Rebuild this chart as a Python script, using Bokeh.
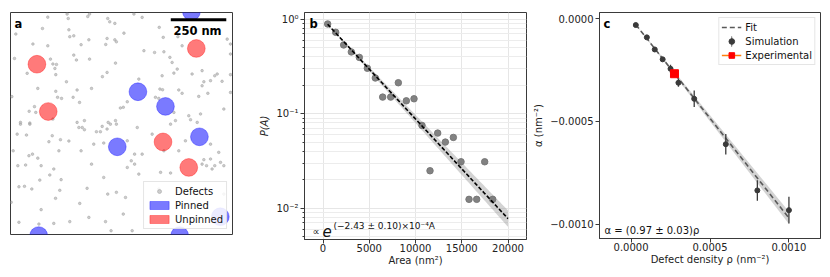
import numpy as np
from bokeh.plotting import figure
from bokeh.layouts import row
from bokeh.models import (Label, Legend, LegendItem, FixedTicker,
                          CustomJSTickFormatter, Range1d)
from bokeh.embed import file_html
from bokeh.resources import INLINE

FONT = "DejaVu Sans"
FRAME_COLOR = "#3a3a3a"
PAGE_PAD = 8

# ---------------- Panel a: defect map (nm) ----------------
DOMAIN_NM = 1000
SCALEBAR_NM = 250
PARTICLE_R_NM = 40

defect_x = [168, 255, 260, 348, 356, 438, 447, 470, 144, 263, 24, 267, 285, 353, 435, 470, 477, 429, 101, 168,
            318, 285, 297, 356, 18, 180, 191, 207, 200, 473, 75, 204, 435, 414, 252, 123, 365, 300, 204, 212,
            230, 282, 311, 6, 108, 84, 114, 495, 191, 45, 87, 300, 333, 440, 473,
            556, 593, 511, 670, 688, 754, 773, 601, 649, 691, 718, 728, 751, 736, 683, 818, 863, 931, 920, 991,
            991, 976, 991, 871, 901, 953, 578, 673, 685, 758, 773, 848, 889, 863, 991, 526, 508, 653, 668, 736,
            803, 811, 856, 743, 841, 961,
            45, 87, 308, 323, 333, 413, 435, 450, 477, 387, 405, 30, 72, 188, 173, 225, 263, 375, 420, 12,
            218, 318, 83, 99, 123, 33, 68, 138, 195, 177, 420, 132, 228, 365, 38, 63, 96, 222, 345, 438,
            477, 203, 312, 3, 138, 353, 428, 38, 128, 195, 267, 453,
            721, 571, 638, 526, 691, 758, 788, 901, 938, 559, 593, 871, 901, 946, 544, 559, 526, 578, 676, 721,
            961, 863, 883, 908, 920, 668, 518, 508, 961, 548]
defect_y = [979, 993, 973, 982, 993, 973, 958, 951, 928, 922, 903, 891, 895, 877, 883, 877, 868, 856, 858, 850,
            855, 808, 786, 790, 793, 790, 768, 766, 748, 772, 726, 720, 730, 711, 688, 658, 658, 651, 645, 618,
            613, 618, 595, 621, 576, 555, 550, 570, 520, 505, 502, 505, 513, 505, 513,
            993, 978, 907, 933, 888, 891, 850, 828, 820, 823, 798, 775, 745, 727, 715, 723, 738, 723, 715, 720,
            813, 880, 858, 688, 693, 690, 700, 655, 652, 651, 636, 622, 636, 670, 640, 598, 573, 618, 613, 550,
            535, 517, 543, 513, 505, 565,
            497, 497, 482, 482, 472, 487, 475, 497, 497, 463, 463, 452, 448, 445, 418, 427, 421, 407, 412, 377,
            377, 377, 355, 362, 344, 310, 313, 310, 295, 268, 257, 245, 247, 317, 215, 217, 205, 199, 208, 182,
            190, 163, 140, 145, 112, 77, 58, 55, 47, 50, 58, 17,
            497, 482, 452, 422, 377, 377, 422, 407, 370, 362, 362, 337, 340, 325, 332, 317, 302, 272, 280, 277,
            310, 317, 310, 295, 310, 205, 167, 92, 182, 17]

pinned_x = [481, 574, 698, 851, 127, 762, 815, 945]
pinned_y = [395, 643, 577, 440, -5, -5, 1004, 80]
unpinned_x = [119, 170, 837, 687, 803]
unpinned_y = [767, 554, 838, 417, 302]

# ---------------- Panel b: area distribution ----------------
area_nm2 = [505, 1370, 2234, 3063, 3928, 4793, 5658, 6451, 7316, 8145, 9010,
            9839, 10704, 11569, 12398, 13227, 14092, 14921, 15786, 16615, 17480, 18345]
prob_area = [0.892, 0.728, 0.535, 0.451, 0.395, 0.303, 0.239, 0.150, 0.150, 0.213, 0.137,
             0.144, 0.0752, 0.0249, 0.0624, 0.0501, 0.0561, 0.031, 0.0124, 0.0124, 0.031, 0.0124]
FIT_B_AMP = 1.0
FIT_B_RATE = 2.43e-4
FIT_B_RATE_ERR = 0.10e-4
FIT_B_XMIN, FIT_B_XMAX = 500, 20000
b_xticks = [0, 5000, 10000, 15000, 20000]
b_yticks = [0.01, 0.1, 1.0]

# ---------------- Panel c: alpha vs defect density ----------------
rho_sim = [0.00003, 0.0001, 0.00015, 0.0002, 0.00025, 0.0003, 0.0004, 0.0006, 0.0008, 0.001]
alpha_sim = [-3.1e-5, -9.1e-5, -1.5e-4, -1.98e-4, -2.44e-4, -3.12e-4, -3.9e-4, -6.11e-4, -8.36e-4, -9.32e-4]
alpha_sim_err = [2e-6, 4e-6, 1e-5, 1e-5, 2e-5, 2e-5, 4e-5, 5e-5, 5e-5, 6.5e-5]
rho_exp = [0.000275]
alpha_exp = [-0.000268]
FIT_C_SLOPE = 0.97
FIT_C_SLOPE_ERR = 0.03
c_xticks = [0.0, 0.0005, 0.0010]
c_yticks = [0.0, -0.0005, -0.0010]


def style_axes(p):
    p.outline_line_color = FRAME_COLOR
    p.outline_line_width = 1
    p.axis.axis_line_color = FRAME_COLOR
    p.axis.major_tick_line_color = FRAME_COLOR
    p.axis.minor_tick_line_color = None
    p.axis.major_tick_in = 0
    p.axis.major_tick_out = 4
    p.axis.major_label_text_font = FONT
    p.axis.major_label_text_font_size = "10px"
    p.axis.major_label_text_color = "#222222"
    p.axis.major_label_standoff = 2
    p.axis.axis_label_text_font = FONT
    p.axis.axis_label_text_font_size = "10px"
    p.axis.axis_label_text_font_style = "normal"
    p.axis.axis_label_text_color = "#222222"
    p.axis.axis_label_standoff = 3
    p.xaxis.major_label_standoff = 0
    p.xaxis.axis_label_standoff = 0


def add_label(p, x, y, text, size="10px", style="normal", align="left", color="#111111"):
    p.add_layout(Label(x=x, y=y, x_units="screen", y_units="screen", text=text,
                       text_font=FONT, text_font_size=size, text_font_style=style,
                       text_align=align, text_baseline="middle", text_color=color))


# ======== Figure a ========
pa = figure(frame_width=222, frame_height=222, min_border_left=2 + PAGE_PAD, min_border_right=18,
            min_border_top=4 + PAGE_PAD, min_border_bottom=35,
            x_range=Range1d(0, DOMAIN_NM), y_range=Range1d(0, DOMAIN_NM),
            x_axis_location=None, y_axis_location=None,
            toolbar_location=None, output_backend="svg")
pa.grid.visible = False
pa.outline_line_color = FRAME_COLOR
pa.outline_line_width = 1

defects_r = pa.scatter(defect_x, defect_y, size=2.6, color="#a4a4a4", alpha=0.55)
pa.circle(pinned_x, pinned_y, radius=PARTICLE_R_NM, fill_color="blue", fill_alpha=0.52,
          line_color="blue", line_alpha=0.35, line_width=1)
pa.circle(unpinned_x, unpinned_y, radius=PARTICLE_R_NM, fill_color="red", fill_alpha=0.52,
          line_color="red", line_alpha=0.35, line_width=1)
nan1 = np.array([np.nan])
pin_leg = pa.quad(left=nan1, right=nan1, bottom=nan1, top=nan1, fill_color="blue",
                  fill_alpha=0.52, line_color="blue", line_alpha=0.35)
unpin_leg = pa.quad(left=nan1, right=nan1, bottom=nan1, top=nan1, fill_color="red",
                    fill_alpha=0.52, line_color="red", line_alpha=0.35)

# scale bar
sb_x1 = DOMAIN_NM - 28
sb_x0 = sb_x1 - SCALEBAR_NM
sb_y = DOMAIN_NM - 33
pa.line([sb_x0, sb_x1], [sb_y, sb_y], line_color="black", line_width=3)
add_label(pa, 187, 204, "250 nm", size="11.5px", style="bold", align="center", color="black")
add_label(pa, 4, 211, "a", size="11.5px", style="bold", color="black")

leg_a = Legend(items=[LegendItem(label="Defects", renderers=[defects_r]),
                      LegendItem(label="Pinned", renderers=[pin_leg]),
                      LegendItem(label="Unpinned", renderers=[unpin_leg])],
               location="bottom_right")
leg_a.glyph_width = 24
leg_a.glyph_height = 10
leg_a.label_height = 12
leg_a.spacing = 2
leg_a.padding = 3

# ======== Figure b ========
pb = figure(frame_width=222, frame_height=227, min_border_left=54, min_border_right=4,
            min_border_top=1 + PAGE_PAD, min_border_bottom=33,
            x_range=Range1d(-2000, 22000), y_range=Range1d(0.00466, 1.18),
            y_axis_type="log", toolbar_location=None, output_backend="svg")
style_axes(pb)
pb.xaxis.ticker = FixedTicker(ticks=b_xticks)
minor_b = [m * d for d in (0.001, 0.01, 0.1) for m in range(2, 10)]
pb.yaxis.ticker = FixedTicker(ticks=b_yticks, minor_ticks=minor_b)
pb.yaxis.minor_tick_line_color = FRAME_COLOR
pb.yaxis.minor_tick_in = 0
pb.yaxis.minor_tick_out = 2
pb.yaxis.formatter = CustomJSTickFormatter(code="""
const sup = {'-': '\u207b', '0': '\u2070', '1': '\u00b9', '2': '\u00b2', '3': '\u00b3', '4': '\u2074'};
const e = Math.round(Math.log10(tick));
return '10' + String(e).split('').map(c => sup[c]).join('');
""")
pb.xaxis.axis_label = "Area (nm\u00b2)"
pb.yaxis.axis_label = "P(A)"
pb.yaxis.axis_label_text_font_style = "italic"
pb.xgrid.grid_line_color = "#e6e6e6"
pb.ygrid.grid_line_color = "#e6e6e6"
pb.ygrid.minor_grid_line_color = "#ececec"

fx = np.linspace(FIT_B_XMIN, FIT_B_XMAX, 120)
pb.varea(x=fx, y1=FIT_B_AMP * np.exp(-(FIT_B_RATE + FIT_B_RATE_ERR) * fx),
         y2=FIT_B_AMP * np.exp(-(FIT_B_RATE - FIT_B_RATE_ERR) * fx),
         fill_color="#9e9e9e", fill_alpha=0.45)
pb.scatter(area_nm2, prob_area, size=6.5, color="#747474", alpha=0.9)
pb.line(fx, FIT_B_AMP * np.exp(-FIT_B_RATE * fx), line_color="black", line_width=1.6,
        line_dash="4 2")
add_label(pb, 5, 216, "b", size="11.5px", style="bold", color="black")
add_label(pb, 8, 8, "\u221d", size="10px")
add_label(pb, 18, 9, "e", size="15px", style="italic")
add_label(pb, 29, 14, "(\u22122.43 \u00b1 0.10)\u00d710\u207b\u2074A", size="9px")

# ======== Figure c ========
pc = figure(frame_width=221, frame_height=226, min_border_left=68, min_border_right=3,
            min_border_top=2 + PAGE_PAD, min_border_bottom=33,
            x_range=Range1d(-0.0002, 0.0012), y_range=Range1d(-0.00107, 0.00003),
            toolbar_location=None, output_backend="svg")
style_axes(pc)
pc.grid.visible = False
pc.xaxis.ticker = FixedTicker(ticks=c_xticks)
pc.yaxis.ticker = FixedTicker(ticks=c_yticks)
pc.xaxis.formatter = CustomJSTickFormatter(code="""
const a = Math.abs(tick) < 1e-12 ? 0 : tick;
return (a < 0 ? '\u2212' : '') + Math.abs(a).toFixed(4);
""")
pc.yaxis.formatter = CustomJSTickFormatter(code="""
const a = Math.abs(tick) < 1e-12 ? 0 : tick;
return (a < 0 ? '\u2212' : '') + Math.abs(a).toFixed(4);
""")
pc.xaxis.axis_label = "Defect density \u03c1 (nm\u207b\u00b2)"
pc.yaxis.axis_label = "\u03b1 (nm\u207b\u00b2)"

cx = np.array([min(rho_sim), max(rho_sim)])
pc.varea(x=cx, y1=-(FIT_C_SLOPE - FIT_C_SLOPE_ERR) * cx, y2=-(FIT_C_SLOPE + FIT_C_SLOPE_ERR) * cx,
         fill_color="#9e9e9e", fill_alpha=0.45)
fit_c = pc.line(cx, -FIT_C_SLOPE * cx, line_color="#5a5a5a", line_width=1.6, line_dash="5 3")
a_arr = np.array(alpha_sim)
e_arr = np.array(alpha_sim_err)
pc.segment(x0=rho_sim, y0=a_arr - e_arr, x1=rho_sim, y1=a_arr + e_arr,
           line_color="#3a3a3a", line_width=1.3)
sim_pts = pc.scatter(rho_sim, alpha_sim, size=5, color="#3a3a3a")
# legend-only vertical error-bar glyph (thin tall ellipse keeps its aspect in the legend)
sim_bar_leg = pc.ellipse(x=nan1, y=nan1, width=1.3, height=14, width_units="screen",
                         height_units="screen", fill_color="#3a3a3a", line_color=None)
exp_line_leg = pc.line(nan1, nan1, line_color="#ff7f0e", line_width=1.6)
exp_pts = pc.scatter(rho_exp, alpha_exp, marker="square", size=8, color="red")
add_label(pc, 4, 215, "c", size="11.5px", style="bold", color="black")
add_label(pc, 5, 8, "\u03b1 = (0.97 \u00b1 0.03)\u03c1", size="10px")

leg_c = Legend(items=[LegendItem(label="Fit", renderers=[fit_c]),
                      LegendItem(label="Simulation", renderers=[sim_bar_leg, sim_pts]),
                      LegendItem(label="Experimental", renderers=[exp_line_leg, exp_pts])],
               location="top_right")
leg_c.glyph_width = 20
leg_c.glyph_height = 14
leg_c.label_height = 14
leg_c.spacing = 0
leg_c.padding = 2

for leg, p in [(leg_a, pa), (leg_c, pc)]:
    leg.label_text_font = FONT
    leg.label_text_font_size = "10px"
    leg.label_text_color = "#111111"
    leg.label_standoff = 4
    leg.margin = 5
    leg.border_line_color = "#cccccc"
    leg.border_line_width = 1
    leg.background_fill_alpha = 0.85
    p.add_layout(leg)

layout = row(pa, pb, pc)
open("out.html", "w").write(file_html(layout, INLINE))
